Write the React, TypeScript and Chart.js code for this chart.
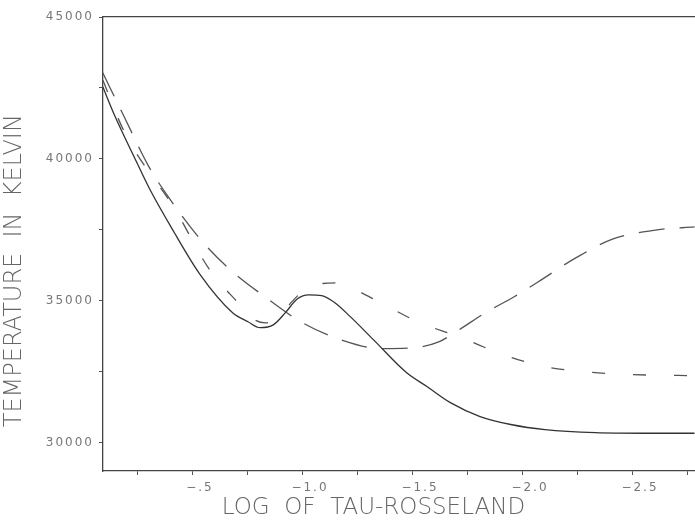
import React, { useEffect, useRef } from "react";
import { Chart, registerables } from "chart.js";

Chart.register(...registerables);

// log tau-Rosseland (x) and temperature in Kelvin (y)
const solidX = [-0.09, -0.145, -0.23, -0.305, -0.41, -0.53, -0.68, -0.75, -0.805, -0.865, -0.92, -0.975, -1.025, -1.085, -1.145, -1.215, -1.32, -1.47, -1.565, -1.67, -1.805, -1.95, -2.10, -2.33, -2.55, -2.78];
const solidT = [42540, 41510, 40110, 38910, 37470, 35950, 34580, 34260, 34050, 34150, 34580, 35070, 35210, 35180, 34930, 34440, 33630, 32470, 31970, 31410, 30920, 30630, 30460, 30350, 30330, 30330];

const longX = [-0.09, -0.19, -0.30, -0.38, -0.54, -0.67, -0.82, -0.99, -1.17, -1.36, -1.50, -1.62, -1.71, -1.83, -1.96, -2.07, -2.24, -2.41, -2.61, -2.78];
const longT = [43030, 41440, 39720, 38750, 37110, 36090, 35180, 34260, 33630, 33310, 33340, 33560, 33980, 34580, 35140, 35670, 36510, 37180, 37500, 37600];

const shortX = [-0.09, -0.19, -0.42, -0.57, -0.70, -0.78, -0.83, -0.89, -0.95, -1.01, -1.08, -1.16, -1.21, -1.36, -1.53, -1.71, -1.90, -2.08, -2.28, -2.49, -2.78];
const shortT = [42780, 40920, 38200, 36160, 34970, 34330, 34220, 34400, 34970, 35390, 35600, 35630, 35490, 34900, 34230, 33730, 33130, 32710, 32500, 32400, 32360];

const xTicks = [-0.25, -0.5, -0.75, -1.0, -1.25, -1.5, -1.75, -2.0, -2.25, -2.5, -2.75];
const xTickLabels: Record<string, string> = { "-0.5": "\u2212.5", "-1": "\u22121.0", "-1.5": "\u22121.5", "-2": "\u22122.0", "-2.5": "\u22122.5" };
const yTicks = [30000, 32500, 35000, 37500, 40000, 42500, 45000];
const yTickLabels = ["30000", "", "35000", "", "40000", "", "45000"];

const xTitle = "LOG  OF  TAU-ROSSELAND       ";
const yTitle = "TEMPERATURE  IN  KELVIN       ";

const toPoints = (xs: number[], ys: number[]) => xs.map((x, i) => ({ x, y: ys[i] }));

// wider, plotter-like spacing for the tick labels only (drawn after the datasets)
const tickSpacing = {
  id: "tickSpacing",
  beforeDraw(chart: any) { chart.ctx.letterSpacing = "0px"; },
  afterDatasetsDraw(chart: any) { chart.ctx.letterSpacing = "2px"; },
  afterDraw(chart: any) { chart.ctx.letterSpacing = "0px"; },
};

export default function App() {
  const ref = useRef<HTMLCanvasElement | null>(null);
  useEffect(() => {
    if (!ref.current) return;
    const light = { family: "'DejaVu Sans', sans-serif", weight: "200" as any };
    const tickFont = { family: "'DejaVu Sans', sans-serif", weight: "normal" as any, size: 12 };
    const chart = new Chart(ref.current, {
      type: "line",
      data: {
        datasets: [
          {
            data: toPoints(solidX, solidT),
            borderColor: "#333",
            borderWidth: 1.3,
            pointRadius: 0,
            cubicInterpolationMode: "monotone",
          },
          {
            data: toPoints(longX, longT),
            borderColor: "#555",
            borderWidth: 1.3,
            borderDash: [26, 15],
            pointRadius: 0,
            cubicInterpolationMode: "monotone",
          },
          {
            data: toPoints(shortX, shortT),
            borderColor: "#555",
            borderWidth: 1.3,
            borderDash: [13, 28],
            pointRadius: 0,
            cubicInterpolationMode: "monotone",
          },
        ],
      },
      plugins: [tickSpacing],
      options: {
        animation: false,
        responsive: false,
        layout: { padding: { top: 17, right: 0, left: 0, bottom: 0 } },
        plugins: { legend: { display: false }, tooltip: { enabled: false }, title: { display: false } },
        scales: {
          x: {
            type: "linear",
            reverse: true,
            min: -2.782,
            max: -0.091,
            afterBuildTicks: (s: any) => { s.ticks = xTicks.map((v) => ({ value: v })); },
            afterFit: (s: any) => { s.height = 51; },
            grid: { display: true, drawOnChartArea: false, drawTicks: true, tickLength: 4, color: "#555" },
            border: { display: true, color: "#444", width: 1.3 },
            ticks: {
              z: 1,
              autoSkip: false,
              maxRotation: 0,
              labelOffset: 7,
              padding: 6,
              color: "#777",
              font: tickFont,
              callback: (v: any) => xTickLabels[String(v)] ?? "",
            },
            title: {
              display: true,
              text: xTitle,
              color: "#666",
              font: { ...light, size: 23 },
              padding: { top: 0, bottom: 0 },
            },
          },
          x2: {
            type: "linear",
            position: "top",
            reverse: true,
            min: -2.782,
            max: -0.091,
            afterFit: (s: any) => { s.height = 0; },
            grid: { display: false, drawTicks: false },
            border: { display: true, color: "#444", width: 1.3 },
            ticks: { display: false },
          },
          y: {
            type: "linear",
            min: 29000,
            max: 45000,
            afterBuildTicks: (s: any) => { s.ticks = yTicks.map((v) => ({ value: v })); },
            afterFit: (s: any) => { s.width = 103; },
            grid: { display: true, drawOnChartArea: false, drawTicks: true, tickLength: 4, color: "#555" },
            border: { display: true, color: "#444", width: 1.3 },
            ticks: {
              z: 1,
              autoSkip: false,
              padding: 5,
              color: "#777",
              font: tickFont,
              callback: (v: any) => {
                const i = yTicks.indexOf(Number(v));
                return i >= 0 ? yTickLabels[i] : "";
              },
            },
            title: {
              display: true,
              text: yTitle,
              color: "#666",
              font: { ...light, size: 24 },
              padding: { top: 0, bottom: 0 },
            },
          },
        },
      },
    });
    return () => chart.destroy();
  }, []);
  return (
    <div style={{ position: "fixed", left: 0, top: 0, width: 695, height: 522, background: "#fff" }}>
      <canvas ref={ref} width={695} height={522} style={{ display: "block" }} />
    </div>
  );
}
